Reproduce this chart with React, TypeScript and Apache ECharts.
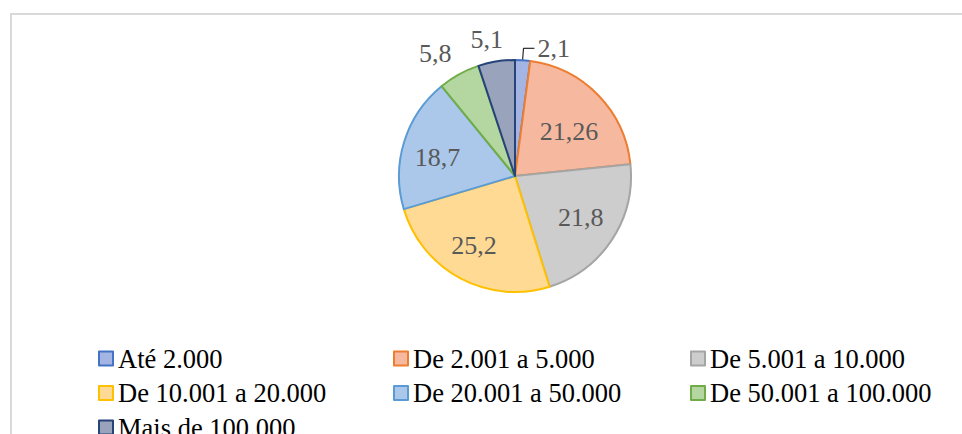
import React, { useEffect, useRef } from 'react';
import * as echarts from 'echarts';

const categories = [
  'Até 2.000',
  'De 2.001 a 5.000',
  'De 5.001 a 10.000',
  'De 10.001 a 20.000',
  'De 20.001 a 50.000',
  'De 50.001 a 100.000',
  'Mais de 100.000',
];
const values = [2.1, 21.26, 21.8, 25.2, 18.7, 5.8, 5.1];

const fillColors = ['#a5b5e3', '#f6b9a0', '#cdcdcd', '#ffda95', '#abc8ea', '#b4d6a1', '#99a3bb'];
const borderColors = ['#4472c4', '#ed7d31', '#a5a5a5', '#ffc000', '#5b9bd5', '#70ad47', '#264478'];
const outsideLabel = [true, false, false, false, false, true, true];
const outsideLineLength = [12, 0, 0, 0, 0, 24, 22];
const outsideLineLength2 = [11, 0, 0, 0, 0, 0, 0];
const outsideDistance = [3, 0, 0, 0, 0, -4, -10];
const outsideLinePadding = [[0, 0, 16, 0], 0, 0, 0, 0, 0, 0];
const outsideLineShown = [true, false, false, false, false, false, false];
const insideLabelOffset = [[0, 0], [-4, 12], [-2, -3], [-3, -2], [0, 5], [0, 0], [0, 0]];

const FONT = 'Times New Roman, Liberation Serif, DejaVu Serif, serif';
const LABEL_COLOR = '#595959';
const fmt = (p: any) => String(p.value).replace('.', ',');

export default function App() {
  const ref = useRef<HTMLDivElement>(null);
  useEffect(() => {
    if (!ref.current) return;
    const chart = echarts.init(ref.current, undefined, { renderer: 'svg' });

    const mainData = categories.map((name, i) => ({
      name,
      value: values[i],
      itemStyle: { color: fillColors[i], borderColor: borderColors[i], borderWidth: 2 },
      label: outsideLabel[i]
        ? {
            show: true,
            position: 'outside',
            distanceToLabelLine: outsideDistance[i],
            padding: outsideLinePadding[i],
          }
        : { show: false },
      labelLine: {
        show: outsideLineShown[i],
        length: outsideLineLength[i],
        length2: outsideLineLength2[i],
        lineStyle: { color: '#000', width: 1 },
      },
    }));

    const overlayData = categories.map((name, i) => ({
      name,
      value: values[i],
      label: { show: !outsideLabel[i], offset: insideLabelOffset[i] },
    }));

    const columns = [0, 1, 2].map((c) => categories.filter((_, i) => i % 3 === c));
    const columnLeft = [98, 393, 690];

    chart.setOption({
      animation: false,
      backgroundColor: '#fff',
      textStyle: { fontFamily: FONT },
      graphic: [
        {
          type: 'rect',
          shape: { x: 11, y: 14, width: 1000, height: 500 },
          style: { fill: 'none', stroke: '#d9d9d9', lineWidth: 2 },
          silent: true,
          z: -1,
        },
      ],
      legend: columns.map((col, c) => ({
        data: col,
        orient: 'vertical',
        left: columnLeft[c],
        top: 345,
        height: 200,
        padding: 0,
        itemGap: 7.5,
        itemWidth: 14,
        itemHeight: 14,
        icon: 'rect',
        selectedMode: false,
        textStyle: { fontFamily: FONT, fontSize: 26.5, color: '#000' },
      })),
      series: [
        {
          type: 'pie',
          center: [515, 176],
          radius: [0, 116],
          startAngle: 90,
          clockwise: true,
          avoidLabelOverlap: false,
          silent: true,
          label: {
            fontFamily: FONT,
            fontSize: 26,
            color: LABEL_COLOR,
            formatter: fmt,
          },
          data: mainData,
        },
        {
          type: 'pie',
          center: [515, 176],
          radius: [0, 156],
          startAngle: 90,
          clockwise: true,
          avoidLabelOverlap: false,
          silent: true,
          z: 3,
          itemStyle: { color: 'rgba(0,0,0,0)', borderWidth: 0 },
          label: {
            position: 'inside',
            fontFamily: FONT,
            fontSize: 26,
            color: LABEL_COLOR,
            formatter: fmt,
          },
          labelLine: { show: false },
          data: overlayData,
        },
      ],
    });
    return () => chart.dispose();
  }, []);

  return (
    <div
      ref={ref}
      style={{ position: 'absolute', left: 0, top: 0, width: 962, height: 434 }}
    />
  );
}
